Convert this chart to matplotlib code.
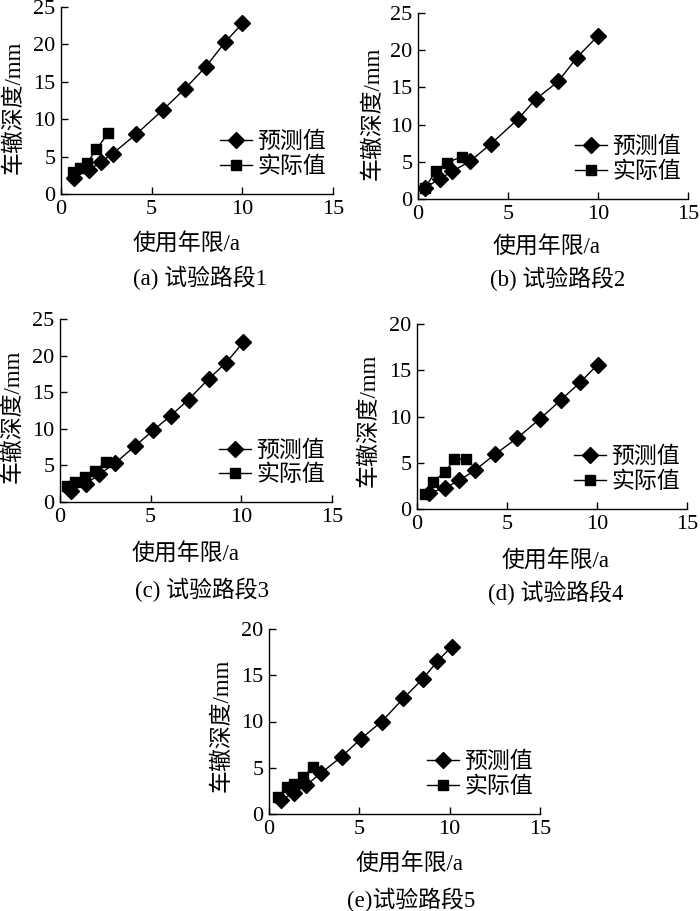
import matplotlib
matplotlib.use("Agg")
import matplotlib.pyplot as plt

plt.rcParams['font.family'] = ['Liberation Serif', 'Noto Sans CJK SC']
plt.rcParams['axes.unicode_minus'] = False

# === 数据 ===
pred_x_1 = [0.7, 1.55, 2.2, 2.85, 4.15, 5.6, 6.85, 7.98, 9.05, 10.0]
pred_y_1 = [2.2, 3.2, 4.3, 5.4, 8.0, 11.2, 14.1, 17.0, 20.3, 22.8]
real_x_1 = [0.64, 1.04, 1.44, 1.95, 2.6]
real_y_1 = [2.9, 3.5, 4.1, 6.0, 8.1]

pred_x_2 = [0.39, 1.2, 1.9, 2.9, 4.05, 5.54, 6.53, 7.79, 8.82, 9.99]
pred_y_2 = [1.5, 2.7, 3.7, 5.1, 7.4, 10.7, 13.4, 15.8, 19.0, 21.9]
real_x_2 = [0.39, 1.01, 1.62, 2.45]
real_y_2 = [1.5, 3.8, 4.9, 5.7]

pred_x_3 = [0.59, 1.44, 2.17, 3.04, 4.16, 5.15, 6.11, 7.09, 8.19, 9.15, 10.1]
pred_y_3 = [1.5, 2.5, 3.8, 5.3, 7.7, 9.8, 11.8, 14.0, 16.8, 19.0, 21.8]
real_x_3 = [0.37, 0.83, 1.38, 1.93, 2.54]
real_y_3 = [2.2, 2.8, 3.4, 4.3, 5.4]

pred_x_4 = [0.64, 1.56, 2.36, 3.22, 4.33, 5.58, 6.81, 8.0, 9.07, 10.03]
pred_y_4 = [1.7, 2.3, 3.1, 4.2, 5.9, 7.7, 9.7, 11.8, 13.7, 15.6]
real_x_4 = [0.42, 0.87, 1.56, 2.08, 2.72]
real_y_4 = [1.6, 2.9, 4.0, 5.4, 5.4]

pred_x_5 = [0.65, 1.38, 2.05, 2.86, 4.02, 5.07, 6.24, 7.44, 8.5, 9.32, 10.11]
pred_y_5 = [1.5, 2.3, 3.1, 4.4, 6.2, 8.1, 10.0, 12.5, 14.6, 16.5, 18.1]
real_x_5 = [0.48, 0.98, 1.4, 1.9, 2.45]
real_y_5 = [1.8, 2.9, 3.2, 4.0, 5.1]

panels = [
    (pred_x_1, pred_y_1, real_x_1, real_y_1, 25, '(a) 试验路段1'),
    (pred_x_2, pred_y_2, real_x_2, real_y_2, 25, '(b) 试验路段2'),
    (pred_x_3, pred_y_3, real_x_3, real_y_3, 25, '(c) 试验路段3'),
    (pred_x_4, pred_y_4, real_x_4, real_y_4, 20, '(d) 试验路段4'),
    (pred_x_5, pred_y_5, real_x_5, real_y_5, 20, '(e)试验路段5'),
]

W, H = 700, 911
# 坐标轴像素位置: 左, 上, 右, 下
boxes = [(61, 7, 333, 194), (418, 13, 688, 199), (60, 319, 332, 502),
         (417, 324, 687, 509), (269, 629, 540, 814)]
# 标签位置 (xlabel, ylabel, caption)
xlab_pos = [(187, 245), (547, 248), (186, 555), (556, 562), (410, 865)]
ylab_pos = [(14, 107), (373, 113), (13, 416), (369, 420), (222, 725)]
cap_pos = [(200, 278), (558, 279), (202, 590), (556, 593), (411, 900)]

fig = plt.figure(figsize=(W / 100, H / 100), dpi=100)

def fx(x):
    return x / W

def fy(y):
    return 1 - y / H

fs_tick = 16
fs = 16.5
for i, (px, py, rx, ry, ymax, cap) in enumerate(panels):
    l, t, r, b = boxes[i]
    ax = fig.add_axes([fx(l), fy(b), (r - l) / W, (b - t) / H])
    ax.plot(px, py, color='black', lw=1.0, marker='D', ms=8, label='预测值')
    ax.plot(rx, ry, color='black', lw=1.0, marker='s', ms=6.5, label='实际值')
    ax.set_xlim(0, 15)
    ax.set_ylim(0, ymax)
    ax.set_xticks([0, 5, 10, 15])
    ax.set_yticks(range(0, ymax + 1, 5))
    for s in ['top', 'right']:
        ax.spines[s].set_visible(False)
    for s in ['left', 'bottom']:
        ax.spines[s].set_linewidth(1.0)
    ax.tick_params(direction='in', length=5, width=1.0, labelsize=fs_tick, pad=4)
    ax.set_facecolor('none')
    ax.legend(loc='lower right', bbox_to_anchor=(0.975, 0.085), frameon=False,
              fontsize=fs, handlelength=1.4, handletextpad=0.25,
              labelspacing=0.15, borderpad=0, borderaxespad=0)
    fig.text(fx(xlab_pos[i][0]), fy(xlab_pos[i][1]), '使用年限/a', fontsize=fs,
             ha='center', va='center')
    fig.text(fx(ylab_pos[i][0]), fy(ylab_pos[i][1]), '车辙深度/mm', fontsize=fs,
             ha='center', va='center', rotation=90)
    fig.text(fx(cap_pos[i][0]), fy(cap_pos[i][1]), cap, fontsize=fs,
             ha='center', va='center')

fig.savefig('out.png', dpi=100)
